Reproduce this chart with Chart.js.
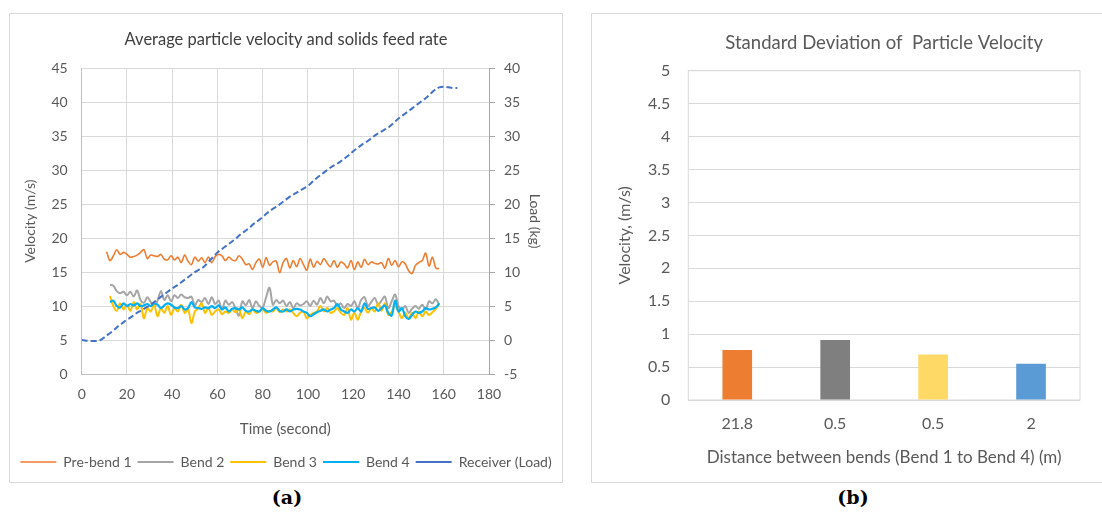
<!DOCTYPE html>
<html>
<head>
<meta charset="utf-8">
<script src="https://cdn.jsdelivr.net/npm/chart.js@4.4.1/dist/chart.umd.min.js"></script>
<style>
  html, body { margin: 0; padding: 0; background: #fff; }
  body { width: 1102px; height: 513px; position: relative; overflow: hidden; }
  .panel { position: absolute; border: 1px solid #d9d9d9; background: #fff; }
  #panel-a { left: 9px; top: 13px; width: 552px; height: 468px; }
  #panel-b { left: 591px; top: 13px; width: 520px; height: 468px; }
  .cap { position: absolute; top: 486px; font: bold 19px "DejaVu Serif", serif; color: #000; transform: translateX(-50%); }
</style>
</head>
<body>
<div class="panel" id="panel-a"><canvas id="chart-a" width="552" height="468"></canvas></div>
<div class="panel" id="panel-b"><canvas id="chart-b" width="510" height="468"></canvas></div>
<div class="cap" style="left:287px">(a)</div>
<div class="cap" style="left:853px">(b)</div>
<script>
// ── DATA: average particle velocity (m/s), sampled every 1.5 s ──
const seconds = [
  11, 12.5, 14, 15.5, 17, 18.5, 20, 21.5, 23, 24.5,
  26, 27.5, 29, 30.5, 32, 33.5, 35, 36.5, 38, 39.5,
  41, 42.5, 44, 45.5, 47, 48.5, 50, 51.5, 53, 54.5,
  56, 57.5, 59, 60.5, 62, 63.5, 65, 66.5, 68, 69.5,
  71, 72.5, 74, 75.5, 77, 78.5, 80, 81.5, 83, 84.5,
  86, 87.5, 89, 90.5, 92, 93.5, 95, 96.5, 98, 99.5,
  101, 102.5, 104, 105.5, 107, 108.5, 110, 111.5, 113, 114.5,
  116, 117.5, 119, 120.5, 122, 123.5, 125, 126.5, 128, 129.5,
  131, 132.5, 134, 135.5, 137, 138.5, 140, 141.5, 143, 144.5,
  146, 147.5, 149, 150.5, 152, 153.5, 155, 156.5, 158
];
const preBend1 = [
  18.0, 16.7, 17.4, 18.3, 17.6, 17.9, 17.6, 17.2, 17.3, 17.5,
  17.9, 18.3, 17.0, 17.5, 17.4, 17.3, 17.6, 16.9, 16.8, 17.4,
  16.8, 17.2, 16.4, 17.5, 16.6, 16.1, 17.2, 16.6, 17.1, 16.4,
  17.2, 16.4, 17.3, 17.6, 17.4, 16.7, 17.2, 16.8, 16.7, 17.4,
  16.9, 16.1, 16.2, 15.4, 16.4, 16.9, 15.7, 17.1, 16.0, 16.5,
  16.6, 14.9, 16.4, 17.0, 15.6, 16.7, 15.8, 17.0, 16.1, 15.3,
  16.9, 15.7, 16.6, 16.1, 17.0, 16.3, 15.8, 16.7, 15.7, 16.5,
  16.2, 15.6, 16.7, 15.4, 16.5, 15.7, 16.9, 16.1, 16.5, 16.3,
  16.2, 16.4, 15.6, 17.0, 16.0, 16.7, 15.8, 16.5, 16.2, 15.2,
  14.8, 16.0, 16.4, 16.7, 17.8, 15.9, 17.2, 15.6, 15.5
];
const bend2 = [
  null, 13.1, 13.0, 12.2, 11.9, 12.1, 11.6, 12.1, 11.4, 12.3,
  10.9, 10.5, 11.3, 10.6, 10.0, 10.8, 12.2, 10.9, 11.6, 10.7,
  11.6, 11.2, 11.7, 11.3, 11.2, 11.4, 10.1, 10.9, 10.6, 11.2,
  10.3, 11.3, 10.3, 10.8, 9.5, 10.8, 10.2, 10.6, 9.6, 8.6,
  10.7, 10.1, 10.9, 9.7, 10.7, 10.0, 9.8, 11.3, 12.7, 10.2,
  10.9, 10.4, 10.8, 10.0, 10.6, 9.7, 10.4, 10.1, 10.3, 10.7,
  10.0, 10.8, 10.2, 11.2, 10.4, 11.4, 10.7, 10.8, 10.0, 10.4,
  9.7, 10.3, 10.0, 10.7, 9.7, 10.9, 11.3, 10.0, 10.6, 11.2,
  10.2, 10.8, 11.4, 9.7, 10.7, 11.7, 10.0, 9.5, 10.0, 9.0,
  9.6, 10.0, 9.6, 10.2, 9.5, 10.7, 10.4, 11.0, 10.2
];
const bend3 = [
  null, 11.5, 10.0, 9.3, 10.4, 9.5, 10.2, 9.3, 10.6, 9.5,
  10.3, 8.2, 9.7, 9.2, 10.2, 8.5, 9.7, 9.0, 10.0, 8.7,
  9.7, 9.2, 10.2, 9.0, 9.5, 7.5, 9.2, 9.7, 10.4, 9.0,
  9.7, 8.7, 9.2, 9.5, 8.8, 9.2, 9.0, 9.5, 9.1, 9.5,
  8.2, 9.2, 8.8, 9.5, 9.0, 9.2, 9.5, 9.0, 9.3, 9.2,
  9.7, 9.1, 9.5, 9.2, 9.5, 9.0, 8.5, 9.0, 9.2, 8.2,
  8.7, 9.0, 9.2, 10.0, 9.2, 9.7, 9.0, 9.2, 9.7, 9.0,
  8.7, 9.7, 8.0, 9.0, 8.0, 9.2, 9.7, 9.0, 9.7, 9.2,
  10.4, 9.3, 10.4, 8.7, 9.2, 10.0, 9.2, 8.2, 9.0, 8.2,
  9.0, 8.2, 9.2, 8.5, 9.2, 8.7, 9.1, 9.6, 10.4
];
const bend4 = [
  null, 10.6, 10.8, 10.0, 9.8, 10.4, 10.0, 10.3, 10.1, 10.4,
  10.0, 10.1, 10.3, 10.0, 10.4, 10.2, 9.7, 10.1, 10.4, 10.2,
  9.8, 9.7, 10.0, 9.5, 9.7, 10.6, 9.8, 9.7, 9.6, 9.8,
  9.7, 10.0, 9.7, 10.1, 9.5, 9.8, 9.2, 9.6, 9.7, 9.5,
  9.8, 9.3, 9.2, 9.5, 9.3, 9.2, 9.7, 9.3, 9.2, 9.5,
  9.8, 9.3, 9.2, 9.5, 9.2, 9.5, 9.6, 9.5, 9.2, 9.0,
  8.5, 8.8, 9.1, 9.3, 9.5, 9.2, 9.5, 9.7, 10.3, 9.5,
  9.2, 9.0, 9.5, 9.2, 9.7, 9.2, 10.4, 9.6, 9.7, 9.8,
  9.3, 9.7, 10.1, 9.0, 8.6, 10.8, 9.2, 9.7, 8.5, 8.1,
  8.7, 9.2, 9.0, 9.2, 9.7, 9.5, 9.6, 9.8, 10.4
];

// ── DATA: receiver load (kg), every 2 s ──
const loadSeconds = [
  0, 2, 4, 6, 8, 10, 12, 14, 16, 18,
  20, 22, 24, 26, 28, 30, 32, 34, 36, 38,
  40, 42, 44, 46, 48, 50, 52, 54, 56, 58,
  60, 62, 64, 66, 68, 70, 72, 74, 76, 78,
  80, 82, 84, 86, 88, 90, 92, 94, 96, 98,
  100, 102, 104, 106, 108, 110, 112, 114, 116, 118,
  120, 122, 124, 126, 128, 130, 132, 134, 136, 138,
  140, 142, 144, 146, 148, 150, 152, 154, 156, 158,
  160, 162, 164, 166
];
const receiverLoad = [
  0, -0.1, -0.15, -0.15, -0.05, 0.4, 0.9, 1.4, 2.0, 2.5,
  3.0, 3.4, 3.9, 4.3, 4.7, 5.1, 5.6, 6.1, 6.6, 7.1,
  7.6, 8.0, 8.5, 9.0, 9.5, 10.0, 10.4, 10.8, 11.5, 12.2,
  12.9, 13.4, 13.9, 14.4, 14.9, 15.5, 16.0, 16.5, 17.1, 17.6,
  18.1, 18.7, 19.2, 19.6, 20.1, 20.6, 21.1, 21.5, 21.9, 22.3,
  22.7, 23.3, 23.9, 24.4, 24.9, 25.4, 25.8, 26.2, 26.7, 27.2,
  27.8, 28.3, 28.8, 29.2, 29.7, 30.2, 30.6, 31.0, 31.4, 32.0,
  32.6, 33.1, 33.6, 34.1, 34.6, 35.1, 35.6, 36.2, 36.8, 37.2,
  37.3, 37.2, 37.1, 37.1
];

// ── DATA: standard deviation bar chart ──
const bendDistances = ['21.8', '0.5', '0.5', '2'];
const stdDev = [0.76, 0.91, 0.69, 0.55];
const barColors = ['#ed7d31', '#7f7f7f', '#ffd966', '#5b9bd5'];

// ── SHARED STYLE ──
const FONT = 'Lato, "Open Sans", sans-serif';
const TXT = '#595959';
const GRID = '#d9d9d9';

function xy(xs, ys) {
  return xs.map((x, i) => ({ x, y: ys[i] }));
}

function ls(color, width, axisId, order, dash) {
  return {
    borderColor: color,
    backgroundColor: color,
    borderWidth: width,
    borderDash: dash || [],
    pointRadius: 0,
    tension: 0.35,
    spanGaps: false,
    yAxisID: axisId,
    order
  };
}

// ── CHART A — velocity + load ──
new Chart(document.getElementById('chart-a'), {
  type: 'line',
  data: {
    datasets: [
      { label: 'Pre-bend 1',      data: xy(seconds, preBend1),         ...ls('#ed7d31', 1.6, 'y', 4) },
      { label: 'Bend 2',          data: xy(seconds, bend2),            ...ls('#a5a5a5', 2,   'y', 3) },
      { label: 'Bend 3',          data: xy(seconds, bend3),            ...ls('#ffc000', 2,   'y', 2) },
      { label: 'Bend 4',          data: xy(seconds, bend4),            ...ls('#00b0f0', 2.2, 'y', 1) },
      { label: 'Receiver (Load)', data: xy(loadSeconds, receiverLoad), ...ls('#4472c4', 2,   'y2', 0, [6, 3]) }
    ]
  },
  options: {
    responsive: false,
    animation: false,
    layout: { padding: { left: 0, right: 0, top: 0, bottom: 3 } },
    plugins: {
      title: {
        display: true,
        text: 'Average particle velocity and solids feed rate',
        color: '#404040',
        font: { family: FONT, size: 16.5, weight: 'normal' },
        padding: { top: 16.1, bottom: 18.4 }
      },
      legend: {
        position: 'bottom',
        labels: {
          color: TXT,
          font: { family: FONT, size: 14 },
          usePointStyle: true,
          pointStyle: 'line',
          pointStyleWidth: 36,
          padding: 6,
          sort: (a, b) => a.datasetIndex - b.datasetIndex
        }
      },
      tooltip: { enabled: false }
    },
    scales: {
      x: {
        type: 'linear',
        min: 0, max: 180,
        grid: { color: GRID, drawTicks: false },
        border: { color: '#bfbfbf' },
        ticks: { stepSize: 20, color: TXT, padding: 12, font: { family: FONT, size: 14 } },
        title: {
          display: true, text: 'Time (second)', color: TXT,
          font: { family: FONT, size: 15 }, padding: { top: 0, bottom: 11 }
        },
        afterFit: s => { s.height = 75; }
      },
      y: {
        position: 'left',
        min: 0, max: 45,
        grid: { color: GRID, drawTicks: false },
        border: { color: '#bfbfbf' },
        ticks: { stepSize: 5, color: TXT, padding: 14, font: { family: FONT, size: 14 } },
        title: {
          display: true, text: 'Velocity (m/s)', color: TXT,
          font: { family: FONT, size: 14 }, padding: { top: 11.6, bottom: 0 }
        },
        afterFit: s => { s.width = 71.7; }
      },
      y2: {
        position: 'right',
        min: -5, max: 40,
        grid: { drawOnChartArea: false, color: '#a6a6a6', tickLength: 6 },
        border: { color: '#a6a6a6' },
        ticks: { stepSize: 5, color: TXT, padding: 9, font: { family: FONT, size: 14 } },
        title: {
          display: true, text: 'Load (kg)', color: TXT,
          font: { family: FONT, size: 14 }, padding: { top: 18.6, bottom: 0 }
        },
        afterFit: s => { s.width = 73; }
      }
    }
  }
});

// ── PLOT AREA OUTLINE (chart b) ──
const areaBorder = {
  id: 'areaBorder',
  beforeDatasetsDraw(chart) {
    const { ctx, chartArea: a } = chart;
    ctx.save();
    ctx.strokeStyle = GRID;
    ctx.lineWidth = 1;
    ctx.strokeRect(a.left, a.top, a.right - a.left, a.bottom - a.top);
    ctx.restore();
  }
};

// ── CHART B — standard deviation ──
new Chart(document.getElementById('chart-b'), {
  type: 'bar',
  data: {
    labels: bendDistances,
    datasets: [{
      data: stdDev,
      backgroundColor: barColors,
      categoryPercentage: 1,
      barPercentage: 0.303
    }]
  },
  options: {
    responsive: false,
    animation: false,
    layout: { padding: { left: 10, right: 22, top: 0, bottom: 4 } },
    plugins: {
      title: {
        display: true,
        fullSize: false,
        text: 'Standard Deviation of  Particle Velocity',
        color: TXT,
        font: { family: FONT, size: 18.5, weight: 'normal' },
        padding: { top: 17.6, bottom: 16.9 }
      },
      legend: { display: false },
      tooltip: { enabled: false }
    },
    scales: {
      x: {
        grid: { display: false },
        border: { display: false },
        ticks: { color: TXT, padding: 6, font: { family: FONT, size: 16 } },
        title: {
          display: true, text: 'Distance between bends (Bend 1 to Bend 4) (m)', color: TXT,
          font: { family: FONT, size: 17 }, padding: { top: 0, bottom: 9.8 }
        },
        afterFit: s => { s.height = 78; }
      },
      y: {
        min: 0, max: 5,
        grid: { color: GRID, drawTicks: false },
        border: { display: false },
        ticks: { stepSize: 0.5, color: TXT, padding: 18, font: { family: FONT, size: 16 }, callback: v => String(v) },
        title: {
          display: true, text: 'Velocity, (m/s)', color: TXT,
          font: { family: FONT, size: 16 }, padding: { top: 13.4, bottom: 0 }
        },
        afterFit: s => { s.width = 86.3; }
      }
    }
  },
  plugins: [areaBorder]
});
</script>
</body>
</html>
